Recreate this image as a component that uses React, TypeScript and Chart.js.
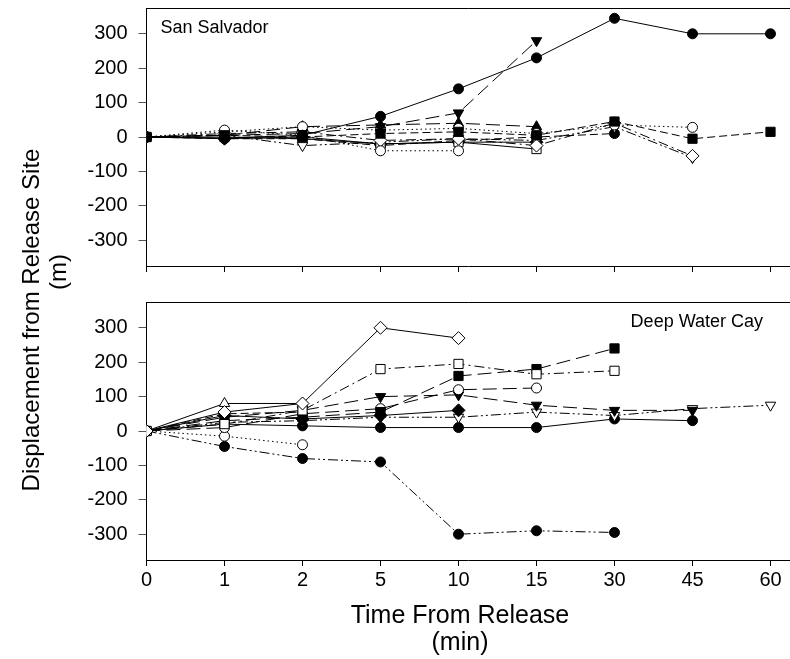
import React, { useEffect, useRef } from 'react';
import { Chart, registerables } from 'chart.js';

Chart.register(...registerables);

const FONT = "'Liberation Sans', Arial, Helvetica, sans-serif";

const TIME_LABELS = ['0', '1', '2', '5', '10', '15', '30', '45', '60'];
const Y_TICKS = [-300, -200, -100, 0, 100, 200, 300];

// San Salvador (top panel) series, values at TIME_LABELS positions
const SS_FILLED_CIRCLE = [0, -3, 5, 60, 140, 230, 345, 300, 300];
const SS_FILLED_DOWN = [0, 5, 10, 30, 70, 280];
const SS_FILLED_SQUARE = [0, 5, 0, 10, 15, 5, 45, -5, 15];
const SS_OPEN_CIRCLE_A = [0, 20, 5, -40, -40];
const SS_OPEN_CIRCLE_B = [0, 15, 30, 20, 25, 10, 35, 28];
const SS_OPEN_DIAMOND = [0, 10, 15, -10, -5, -25, 40, -55];
const SS_OPEN_DOWN = [0, 5, -25, -15, -5, -10, 30, -60];
const SS_FILLED_UP = [0, 5, 30, 35, 40, 30];
const SS_OPEN_SQUARE = [0, 0, -5, -20, -15, -35];
const SS_FILLED_CIRCLE_B = [0, -5, -5, -25, -10, 0, 10];
const SS_FILLED_DIAMOND = [0, -5, 0, -20, -15, -15];

// Deep Water Cay (bottom panel) series
const DW_OPEN_DIAMOND = [0, 55, 80, 300, 270];
const DW_OPEN_SQUARE = [0, 20, 60, 180, 195, 165, 175];
const DW_FILLED_SQUARE = [0, 30, 40, 55, 160, 180, 240];
const DW_OPEN_CIRCLE_A = [0, 10, 50, 65, 120, 125];
const DW_FILLED_DOWN = [0, 40, 60, 100, 105, 75, 60, 60];
const DW_FILLED_DIAMOND = [0, 45, 35, 45, 60];
const DW_OPEN_DOWN = [0, 25, 30, 40, 40, 55, 45, 65, 75];
const DW_FILLED_CIRCLE = [0, 20, 15, 10, 10, 10, 35, 30];
const DW_OPEN_CIRCLE_B = [0, -15, -40];
const DW_FILLED_HEX = [0, -45, -80, -90, -300, -290, -295];
const DW_OPEN_UP = [0, 80, 80];
const DW_FILLED_UP = [0, 50, 55];

const SOLID: number[] = [];
const DASH = [8, 4];
const LONGDASH = [14, 6];
const DOT = [1.5, 3];
const DASHDOT = [10, 4, 2, 4];
const DASHDOTDOT = [10, 3, 2, 3, 2, 3];

type Marker = 'circle' | 'square' | 'diamond' | 'up' | 'down';

function makeSet(values: number[], marker: Marker, filled: boolean, dash: number[]) {
  let pointStyle: any = 'circle';
  let radius = 5;
  let rotation = 0;
  if (marker === 'square') { pointStyle = 'rect'; radius = 6.5; }
  if (marker === 'diamond') { pointStyle = 'rectRot'; radius = 6.5; }
  if (marker === 'up') { pointStyle = 'triangle'; radius = 6; }
  if (marker === 'down') { pointStyle = 'triangle'; radius = 6; rotation = 180; }
  return {
    type: 'line' as const,
    data: values.map((v, i) => ({ x: i, y: v })),
    borderColor: '#000',
    borderWidth: 1,
    borderDash: dash,
    fill: false,
    tension: 0,
    pointStyle,
    pointRadius: radius,
    pointRotation: rotation,
    pointBackgroundColor: filled ? '#000' : '#fff',
    pointBorderColor: '#000',
    pointBorderWidth: 1,
  };
}

const topSets = [
  makeSet(SS_FILLED_CIRCLE, 'circle', true, SOLID),
  makeSet(SS_FILLED_DOWN, 'down', true, LONGDASH),
  makeSet(SS_FILLED_SQUARE, 'square', true, DASH),
  makeSet(SS_OPEN_CIRCLE_A, 'circle', false, DOT),
  makeSet(SS_OPEN_CIRCLE_B, 'circle', false, DOT),
  makeSet(SS_OPEN_DIAMOND, 'diamond', false, DASHDOT),
  makeSet(SS_OPEN_DOWN, 'down', false, DASHDOTDOT),
  makeSet(SS_FILLED_UP, 'up', true, LONGDASH),
  makeSet(SS_OPEN_SQUARE, 'square', false, SOLID),
  makeSet(SS_FILLED_CIRCLE_B, 'circle', true, DASH),
  makeSet(SS_FILLED_DIAMOND, 'diamond', true, SOLID),
];

const bottomSets = [
  makeSet(DW_OPEN_DIAMOND, 'diamond', false, SOLID),
  makeSet(DW_OPEN_SQUARE, 'square', false, DASHDOT),
  makeSet(DW_FILLED_SQUARE, 'square', true, LONGDASH),
  makeSet(DW_OPEN_CIRCLE_A, 'circle', false, LONGDASH),
  makeSet(DW_FILLED_DOWN, 'down', true, LONGDASH),
  makeSet(DW_FILLED_DIAMOND, 'diamond', true, SOLID),
  makeSet(DW_OPEN_DOWN, 'down', false, DASHDOTDOT),
  makeSet(DW_FILLED_CIRCLE, 'circle', true, SOLID),
  makeSet(DW_OPEN_CIRCLE_B, 'circle', false, DOT),
  makeSet(DW_FILLED_HEX, 'circle', true, DASHDOTDOT),
  makeSet(DW_OPEN_UP, 'up', false, SOLID),
  makeSet(DW_FILLED_UP, 'up', true, DASH),
];

const framePlugin = {
  id: 'frame',
  afterDraw(chart: any, _args: any, opts: any) {
    const { ctx, chartArea } = chart;
    ctx.save();
    ctx.strokeStyle = '#000';
    ctx.lineWidth = 1;
    ctx.beginPath();
    ctx.moveTo(chartArea.left, chartArea.top + 0.5);
    ctx.lineTo(chartArea.right, chartArea.top + 0.5);
    ctx.stroke();
    ctx.fillStyle = '#000';
    ctx.font = `18px ${FONT}`;
    ctx.textBaseline = 'middle';
    if (opts.align === 'left') {
      ctx.textAlign = 'left';
      ctx.fillText(opts.text, chartArea.left + 14, chartArea.top + 20);
    } else {
      ctx.textAlign = 'right';
      ctx.fillText(opts.text, chartArea.right - 27, chartArea.top + 20);
    }
    ctx.restore();
  },
};

function buildOptions(bottom: boolean, label: string, align: string, xHeight: number, padTop: number): any {
  return {
    animation: false,
    responsive: false,
    maintainAspectRatio: false,
    layout: { autoPadding: false, padding: { top: padTop, left: 0, right: 0, bottom: 0 } },
    plugins: {
      legend: { display: false },
      tooltip: { enabled: false },
      frame: { text: label, align },
    },
    scales: {
      x: {
        type: 'linear',
        min: 0,
        max: 8.25,
        afterBuildTicks: (s: any) => {
          s.ticks = TIME_LABELS.map((_, i) => ({ value: i }));
        },
        afterFit: (s: any) => {
          s.height = xHeight;
          s.paddingLeft = 0;
          s.paddingRight = 0;
        },
        ticks: {
          display: bottom,
          callback: (v: any) => TIME_LABELS[v],
          font: { size: 20, family: FONT },
          color: '#000',
          padding: 2,
          maxRotation: 0,
          autoSkip: false,
        },
        grid: { drawOnChartArea: false, drawTicks: true, tickLength: 6, color: '#000' },
        border: { color: '#000', width: 1 },
      },
      y: {
        min: -375,
        max: 375,
        afterBuildTicks: (s: any) => {
          s.ticks = Y_TICKS.map((v) => ({ value: v }));
        },
        afterFit: (s: any) => {
          s.width = 146.5;
          s.paddingTop = 0;
          s.paddingBottom = 0;
        },
        ticks: {
          font: { size: 20, family: FONT },
          color: '#000',
          padding: 11,
        },
        grid: { drawOnChartArea: false, drawTicks: true, tickLength: 8, color: '#555' },
        border: { color: '#000', width: 1 },
      },
    },
  };
}

function Panel(props: { sets: any[]; bottom: boolean; label: string; align: string; height: number; xHeight: number; padTop: number; top: number }) {
  const ref = useRef<HTMLCanvasElement>(null);
  useEffect(() => {
    if (!ref.current) return;
    const chart = new Chart(ref.current, {
      type: 'line',
      data: { datasets: props.sets as any },
      options: buildOptions(props.bottom, props.label, props.align, props.xHeight, props.padTop),
      plugins: [framePlugin],
    });
    return () => chart.destroy();
  }, []);
  return (
    <canvas
      ref={ref}
      width={790}
      height={props.height}
      style={{ position: 'absolute', left: 0, top: props.top, width: 790, height: props.height }}
    />
  );
}

const titleStyle: React.CSSProperties = {
  position: 'absolute',
  fontFamily: FONT,
  fontSize: 24,
  color: '#000',
  textAlign: 'center',
  whiteSpace: 'nowrap',
  lineHeight: '28px',
};

export default function App() {
  return (
    <div style={{ position: 'absolute', left: 0, top: 0, width: 790, height: 659, background: '#fff', overflow: 'hidden' }}>
      <Panel sets={topSets} bottom={false} label="San Salvador" align="left" height={290} xHeight={24} padTop={8} top={0} />
      <Panel sets={bottomSets} bottom={true} label="Deep Water Cay" align="right" height={369} xHeight={99} padTop={12} top={290} />
      <div style={{ ...titleStyle, left: 460 - 150, top: 614 - 14, width: 300, fontSize: 25 }}>Time From Release</div>
      <div style={{ ...titleStyle, left: 460 - 150, top: 641 - 14, width: 300, fontSize: 25 }}>(min)</div>
      <div style={{ ...titleStyle, left: 31 - 250, top: 320 - 14, width: 500, transform: 'rotate(-90deg)' }}>
        Displacement from Release Site
      </div>
      <div style={{ ...titleStyle, left: 58 - 50, top: 272 - 14, width: 100, transform: 'rotate(-90deg)' }}>(m)</div>
    </div>
  );
}
